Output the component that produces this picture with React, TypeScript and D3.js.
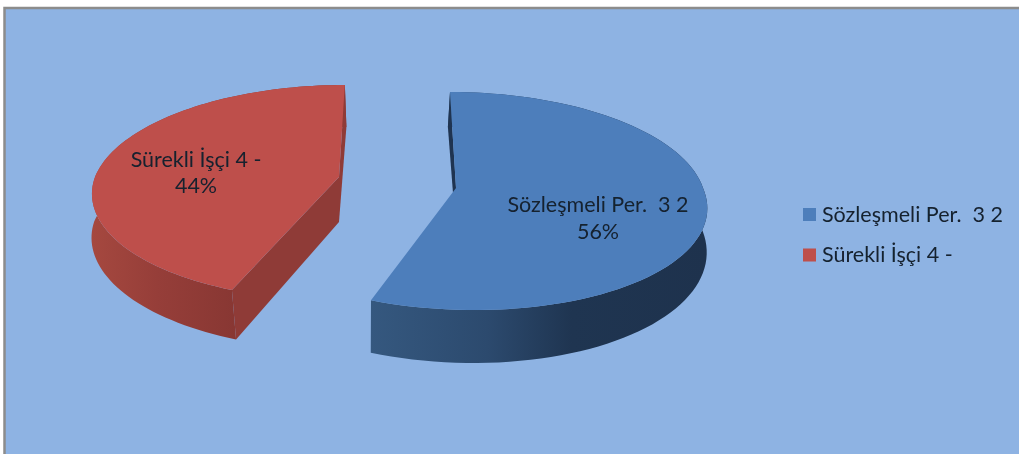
import React from "react";
import * as d3 from "d3";

const categories = ["Sözleşmeli Per.\u00a0\u00a03 2", "Sürekli İşçi 4 -"];
const shares = [56, 44];
const percentLabels = ["56%", "44%"];
const topColors = ["#4d7ebb", "#be4f4b"];

const W = 1019, H = 454;

type Proj = { x: number; y: number; rx: number; back: number; front: number; sb: number; sf: number };

function projector(p: Proj) {
  const k = (p.front - p.back) / (p.front + p.back);
  const ry = p.back * (1 + k);
  return (theta: number): [number, number] => {
    const X = Math.sin(theta), Y = Math.cos(theta);
    const w = 1 + k * Y;
    const s = Y > 0 ? p.sb : p.sf;
    return [p.x + (p.rx * X - s * Y) / w, p.y - (ry * Y) / w];
  };
}

const geom = [
  {
    top: { x: 456, y: 188, rx: 247, back: 96, front: 122, sb: 6.7, sf: 16.5 },
    bottom: { x: 456, y: 232, rx: 247, back: 105, front: 131, sb: 9, sf: 15.5 },
  },
  {
    top: { x: 339, y: 177, rx: 244, back: 92, front: 123, sb: -6.7, sf: -3.1 },
    bottom: { x: 339, y: 222, rx: 245, back: 95, front: 128, sb: -8.5, sf: 1.5 },
  },
];

const wallStops = [
  [["0%", "#35587f"], ["35%", "#2c4a6e"], ["60%", "#1f3551"], ["100%", "#1e324d"]],
  [["0%", "#a5483f"], ["45%", "#963e39"], ["100%", "#883733"]],
];
const wallRange = [[370, 706], [92, 236]];
const cutColors = ["#1f3451", "#8f3b37"];
// which straight cut walls face the viewer: [start of slice, end of slice]
const cutVisible = [[true, false], [true, true]];

const line = d3.line();

export default function App() {
  const arcs = d3.pie<number>().sort(null)(shares);
  const slices = arcs.map((a, i) => {
    const top = projector(geom[i].top);
    const bot = projector(geom[i].bottom);
    const n = 90;
    const angles = d3.range(n + 1).map((j) => a.startAngle + ((a.endAngle - a.startAngle) * j) / n);
    const topArc = angles.map(top);
    const botArc = angles.map(bot);
    const ax: [number, number] = [geom[i].top.x, geom[i].top.y];
    const bx: [number, number] = [geom[i].bottom.x, geom[i].bottom.y];
    const face = line([ax, ...topArc]) + "Z";
    const wall = line([...topArc, ...botArc.slice().reverse()]) + "Z";
    const startCut = line([ax, topArc[0], botArc[0], bx]) + "Z";
    const endCut = line([ax, topArc[n], botArc[n], bx]) + "Z";
    return { face, wall, startCut, endCut };
  });

  return (
    <svg
      width={W}
      height={H}
      viewBox={`0 0 ${W} ${H}`}
      style={{ position: "fixed", left: 0, top: 0, display: "block" }}
    >
      <defs>
        {wallStops.map((stops, i) => (
          <linearGradient
            key={i}
            id={`wall${i}`}
            gradientUnits="userSpaceOnUse"
            x1={wallRange[i][0]}
            x2={wallRange[i][1]}
            y1={0}
            y2={0}
          >
            {stops.map(([o, c]) => (
              <stop key={o} offset={o} stopColor={c} />
            ))}
          </linearGradient>
        ))}
        <filter id="soft" x="-5%" y="-20%" width="110%" height="140%">
          <feGaussianBlur stdDeviation="0.45" />
        </filter>
      </defs>
      <rect width={W} height={H} fill="#ffffff" />
      <rect x={4.5} y={8} width={W + 20} height={H + 20} fill="#8eb3e3" stroke="#8c8c8c" strokeWidth={2.5} />

      {slices.map((s, i) => (
        <g key={categories[i]}>
          <path d={s.wall} fill={`url(#wall${i})`} />
          {cutVisible[i][0] && <path d={s.startCut} fill={cutColors[i]} />}
          {cutVisible[i][1] && <path d={s.endCut} fill={cutColors[i]} />}
          <path d={s.face} fill={topColors[i]} />
        </g>
      ))}

      <g
        fontFamily="Lato, 'Open Sans', sans-serif"
        fontSize={21.5}
        fill="#14202e"
        textAnchor="middle"
        filter="url(#soft)"
      >
        <text x={598} y={212}>{categories[0]}</text>
        <text x={598} y={239}>{percentLabels[0]}</text>
        <text x={196} y={167}>{categories[1]}</text>
        <text x={196} y={193}>{percentLabels[1]}</text>
      </g>

      <g fontFamily="Lato, 'Open Sans', sans-serif" fontSize={21.5} fill="#14202e">
        {categories.map((c, i) => (
          <g key={c} transform={`translate(803,${208 + i * 40.5})`}>
            <rect width={13} height={13} fill={topColors[i]} />
            <text x={19} y={13.5} filter="url(#soft)">{c}</text>
          </g>
        ))}
      </g>
    </svg>
  );
}
